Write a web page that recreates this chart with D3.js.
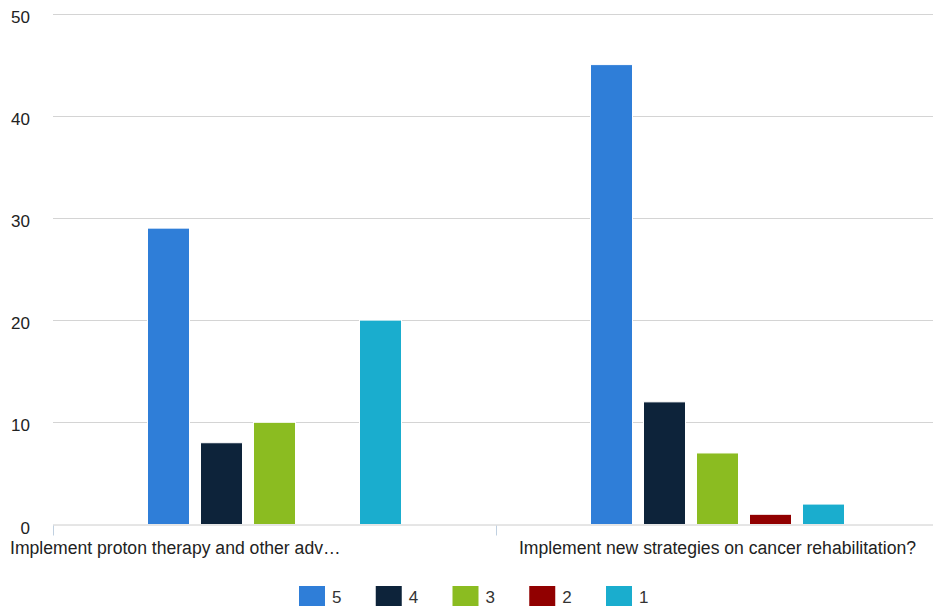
<!DOCTYPE html>
<html>
<head>
<meta charset="utf-8">
<script src="https://cdn.jsdelivr.net/npm/d3@7"></script>
<style>
  html, body { margin: 0; padding: 0; background: #fff; }
  svg { display: block; font-family: "Liberation Sans", Arial, Helvetica, sans-serif; }
</style>
</head>
<body>
<svg id="chart" width="933" height="612"></svg>
<script>
// Survey answers (rating 5 = highest) per question
const categories = [
  "Implement proton therapy and other adv\u2026",
  "Implement new strategies on cancer rehabilitation?"
];
const seriesNames = ["5", "4", "3", "2", "1"];
const seriesColors = ["#2f7ed8", "#0d233a", "#8bbc21", "#910000", "#1aadce"];
const values5 = [29, 45];
const values4 = [8, 12];
const values3 = [10, 7];
const values2 = [0, 1];
const values1 = [20, 2];
const yTicks = [0, 10, 20, 30, 40, 50];

const seriesValues = [values5, values4, values3, values2, values1];

const svg = d3.select("#chart");
const plot = { left: 53, right: 939, top: 13.5, bottom: 524.5 };

const y = d3.scaleLinear().domain([0, 50]).range([plot.bottom, plot.top]);
const x0 = d3.scaleBand().domain(categories).range([plot.left, plot.right]).padding(0);
const groupW = x0.bandwidth();
const inner = 265;
const x1 = d3.scaleBand()
  .domain(seriesNames)
  .range([groupW / 2 - inner / 2, groupW / 2 + inner / 2])
  .paddingInner(11 / 53)
  .paddingOuter(11 / 106);

// horizontal grid lines
svg.append("g")
  .selectAll("line")
  .data(yTicks.filter(d => d > 0))
  .join("line")
  .attr("x1", plot.left)
  .attr("x2", plot.right)
  .attr("y1", d => Math.round(y(d)) + 0.5)
  .attr("y2", d => Math.round(y(d)) + 0.5)
  .attr("stroke", "#d4d4d4")
  .attr("stroke-width", 1);

// y tick labels
svg.append("g")
  .selectAll("text")
  .data(yTicks)
  .join("text")
  .attr("x", 30)
  .attr("y", d => y(d) + 9)
  .attr("text-anchor", "end")
  .attr("font-size", 17)
  .attr("fill", "#222")
  .text(d => d);

// bars
const groups = svg.append("g")
  .selectAll("g")
  .data(categories)
  .join("g")
  .attr("transform", d => `translate(${x0(d)},0)`);

groups.selectAll("rect")
  .data((d, i) => seriesNames.map((s, j) => ({ s, j, v: seriesValues[j][i] })))
  .join("rect")
  .filter(d => d.v > 0)
  .attr("x", d => x1(d.s))
  .attr("y", d => y(d.v))
  .attr("width", x1.bandwidth())
  .attr("height", d => y(0) - y(d.v))
  .attr("fill", d => seriesColors[d.j])
  .attr("stroke", "#ffffff")
  .attr("stroke-width", 1);

// x axis line and ticks
svg.append("line")
  .attr("x1", plot.left).attr("x2", plot.right)
  .attr("y1", plot.bottom + 0.5).attr("y2", plot.bottom + 0.5)
  .attr("stroke", "#cccccc");

const tickXs = categories.map(c => x0(c)).concat([plot.right]);
svg.append("g")
  .selectAll("line")
  .data(tickXs)
  .join("line")
  .attr("x1", d => Math.round(d) + 0.5)
  .attr("x2", d => Math.round(d) + 0.5)
  .attr("y1", plot.bottom + 1)
  .attr("y2", plot.bottom + 11)
  .attr("stroke", "#c0d0e0");

// category labels
svg.append("text")
  .attr("x", 10)
  .attr("y", 554)
  .attr("font-size", 17.6)
  .attr("fill", "#222")
  .text(categories[0]);

svg.append("text")
  .attr("x", x0(categories[1]) + groupW / 2)
  .attr("y", 554)
  .attr("text-anchor", "middle")
  .attr("font-size", 17.6)
  .attr("fill", "#222")
  .text(categories[1]);

// legend
const legend = svg.append("g")
  .selectAll("g")
  .data(seriesNames)
  .join("g")
  .attr("transform", (d, i) => `translate(${299 + i * 76.75},586)`);

legend.append("rect")
  .attr("width", 26)
  .attr("height", 20)
  .attr("fill", (d, i) => seriesColors[i]);

legend.append("text")
  .attr("x", 33)
  .attr("y", 17)
  .attr("font-size", 17)
  .attr("fill", "#333")
  .text(d => d);
</script>
</body>
</html>
